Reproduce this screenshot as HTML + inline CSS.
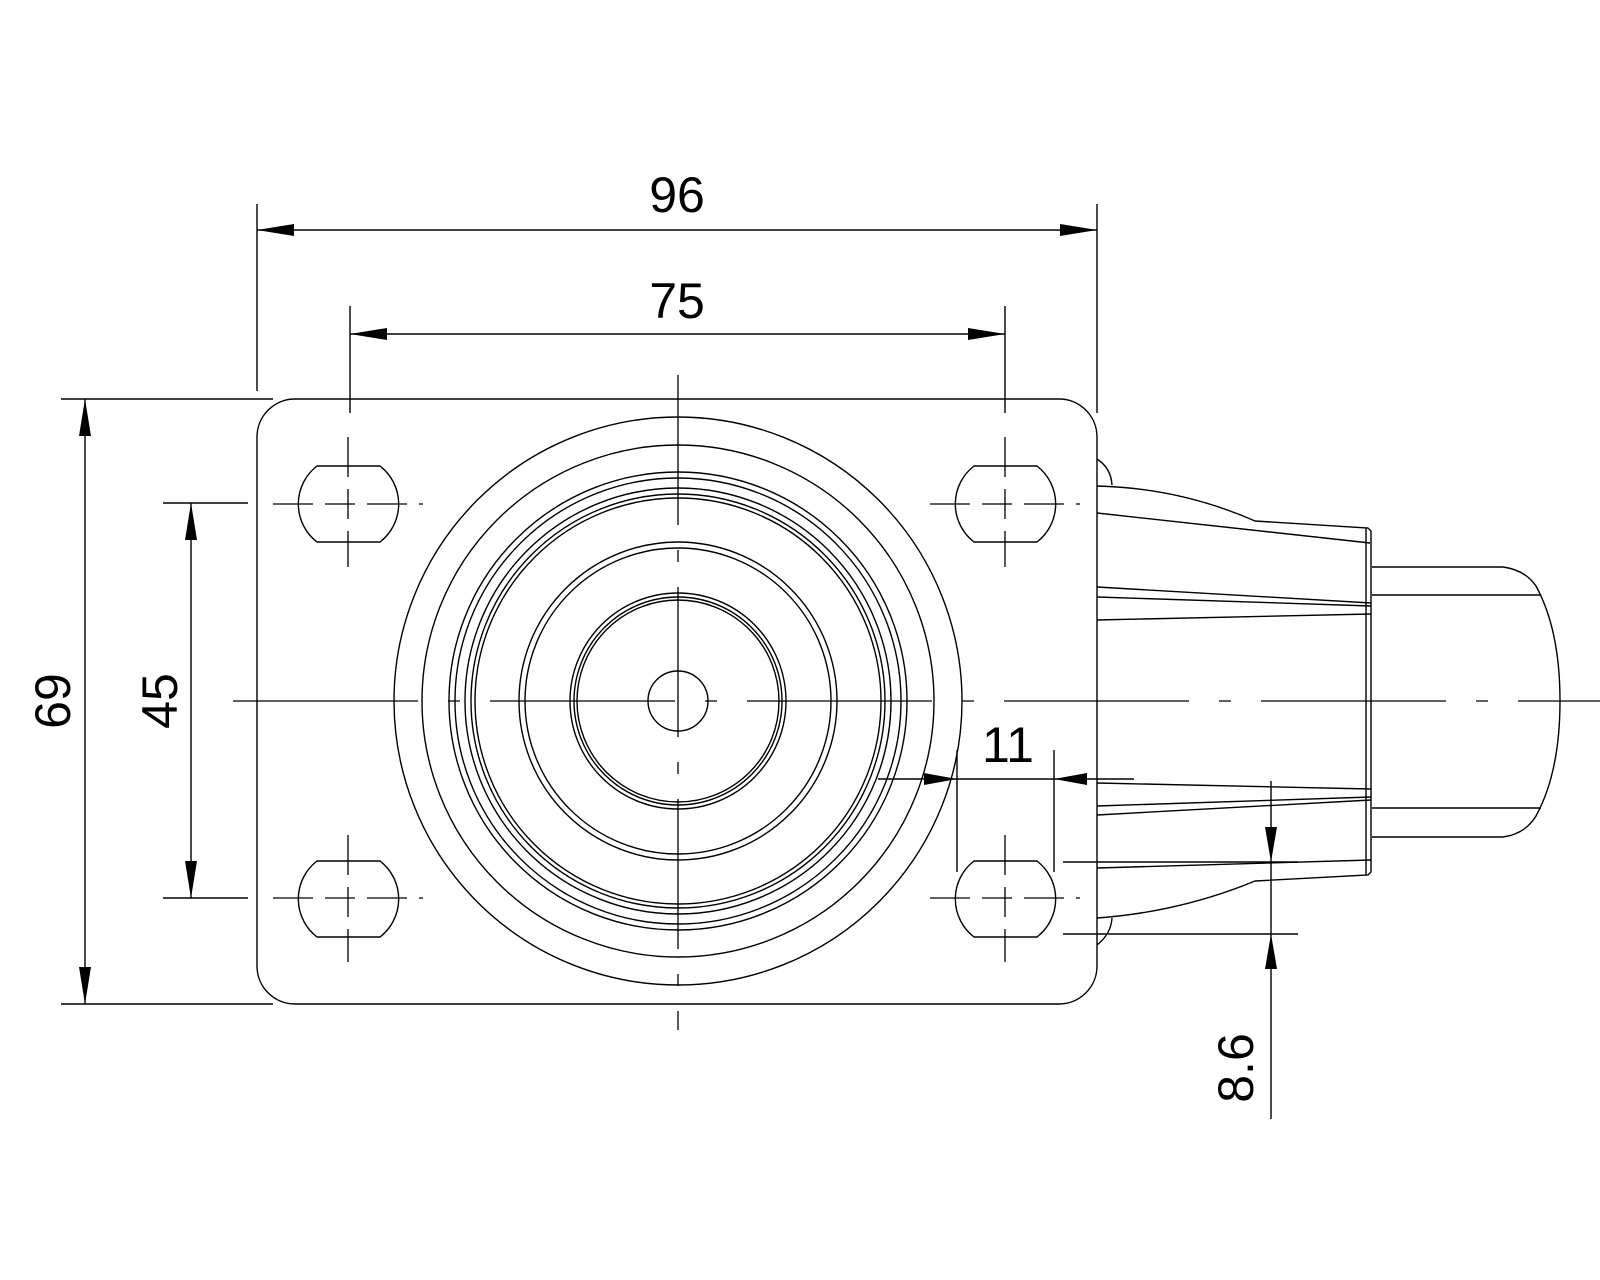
<!DOCTYPE html>
<html><head><meta charset="utf-8"><style>html,body{margin:0;padding:0;background:#fff}svg{display:block}</style></head><body>
<svg width="1600" height="1280" viewBox="0 0 1600 1280" xmlns="http://www.w3.org/2000/svg" font-family="Liberation Sans, sans-serif">
<g fill="none" stroke="#000" stroke-width="1.4">
<!-- plate -->
<path d="M295 399 H1059 A38 38 0 0 1 1097 437 V966 A38 38 0 0 1 1059 1004 H295 A38 38 0 0 1 257 966 V437 A38 38 0 0 1 295 399 Z"/>
<g>
<circle cx="678" cy="701" r="284"/><circle cx="678" cy="701" r="256"/>
<circle cx="678" cy="701" r="229"/><circle cx="678" cy="701" r="223"/>
<circle cx="678" cy="701" r="213"/><circle cx="678" cy="701" r="207"/>
<circle cx="678" cy="701" r="203"/><circle cx="678" cy="701" r="159"/>
<circle cx="678" cy="701" r="153"/><circle cx="678" cy="701" r="108"/>
<circle cx="678" cy="701" r="104"/><circle cx="678" cy="701" r="101"/>
<circle cx="678" cy="701" r="30"/>
</g>
<path d="M317 466 H380 A48 48 0 0 1 380 542 H317 A48 48 0 0 1 317 466 Z"/>
<path d="M974 466 H1037 A48 48 0 0 1 1037 542 H974 A48 48 0 0 1 974 466 Z"/>
<path d="M317 861 H380 A48 48 0 0 1 380 937 H317 A48 48 0 0 1 317 861 Z"/>
<path d="M974 861 H1037 A48 48 0 0 1 1037 937 H974 A48 48 0 0 1 974 861 Z"/>
<!-- fork -->
<path d="M1097 459 Q1111 468 1112 485"/>
<path d="M1097 945 Q1111 934 1112 918"/>
<path d="M1097 486 Q1180 488 1255 521 L1368 528 L1371 531 V872 L1368 875 L1255 881 Q1180 912 1097 918"/>
<path d="M1366 528 V875"/>
<path d="M1097 513 L1370 543"/>
<path d="M1097 587 L1371 603"/><path d="M1097 597 L1371 606"/><path d="M1097 620 L1371 614"/>
<path d="M1097 783 L1371 789"/><path d="M1097 806 L1371 797"/><path d="M1097 815 L1371 800"/>
<path d="M1097 868 L1371 860"/>
<!-- wheel -->
<path d="M1372 567 H1503 Q1525 570 1536 586 Q1560 630 1560 701 Q1560 772 1536 816 Q1525 834 1503 837 H1372"/>
<path d="M1372 595 H1541"/><path d="M1372 808 H1541"/>
</g>
<g stroke="#000" stroke-width="1.3" fill="none">
<path d="M233 701 H1600" stroke-dasharray="185 30 12 30"/>
<path d="M678 375 V1030" stroke-dasharray="150 25 12 25"/>
<path d="M273 504 H423 M930 504 H1080 M273 898 H423 M930 898 H1080" stroke-dasharray="40 12 30 12"/>
<path d="M348 437 V567 M1005 437 V567 M348 835 V962 M1005 835 V962" stroke-dasharray="40 12 30 12"/>
</g>
<g stroke="#000" stroke-width="1.4" fill="none">
<path d="M257 204 V391 M1097 204 V413"/>
<path d="M257 230 H1097"/>
<path d="M350 306 V413 M1005 306 V413"/>
<path d="M350 334 H1005"/>
<path d="M61 399 H273 M61 1004 H273"/>
<path d="M85 399 V1004"/>
<path d="M163 503 H248 M163 898 H248"/>
<path d="M191 503 V898"/>
<path d="M957 750 V872 M1054 750 V872"/>
<path d="M878 779 H1134"/>
<path d="M1063 862 H1298 M1063 934 H1298"/>
<path d="M1271 781 V1119"/>
</g>
<g fill="#000">
<path d="M257 230 l37 -6 v12 z"/><path d="M1097 230 l-37 -6 v12 z"/>
<path d="M350 334 l37 -6 v12 z"/><path d="M1005 334 l-37 -6 v12 z"/>
<path d="M85 399 l-6 37 h12 z"/><path d="M85 1004 l-6 -37 h12 z"/>
<path d="M191 503 l-6 37 h12 z"/><path d="M191 898 l-6 -37 h12 z"/>
<path d="M957 779 l-33 -6 v12 z"/><path d="M1054 779 l33 -6 v12 z"/>
<path d="M1271 862 l-6 -35 h12 z"/><path d="M1271 934 l-6 35 h12 z"/>
</g>
<g font-size="50" fill="#000" text-anchor="middle">
<text x="677" y="212">96</text>
<text x="677" y="318">75</text>
<text x="1008" y="762">11</text>
<text transform="translate(70,701) rotate(-90)">69</text>
<text transform="translate(177,701) rotate(-90)">45</text>
<text transform="translate(1253,1068) rotate(-90)">8.6</text>
</g>
</svg>
</body></html>
